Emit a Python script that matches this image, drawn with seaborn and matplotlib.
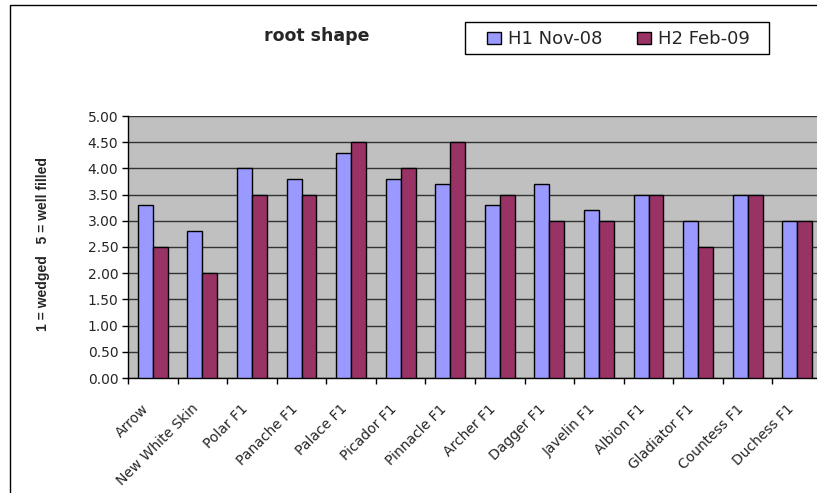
import pandas as pd
import matplotlib.pyplot as plt
import seaborn as sns
from matplotlib.patches import Rectangle
from matplotlib.transforms import ScaledTranslation

varieties = ['Arrow', 'New White Skin', 'Polar F1', 'Panache F1', 'Palace F1',
             'Picador F1', 'Pinnacle F1', 'Archer F1', 'Dagger F1', 'Javelin F1',
             'Albion F1', 'Gladiator F1', 'Countess F1', 'Duchess F1']
h1_nov08 = [3.3, 2.8, 4.0, 3.8, 4.3, 3.8, 3.7, 3.3, 3.7, 3.2, 3.5, 3.0, 3.5, 3.0]
h2_feb09 = [2.5, 2.0, 3.5, 3.5, 4.5, 4.0, 4.5, 3.5, 3.0, 3.0, 3.5, 2.5, 3.5, 3.0]
series = ['H1 Nov-08', 'H2 Feb-09']
yticks = [0, 0.5, 1, 1.5, 2, 2.5, 3, 3.5, 4, 4.5, 5]

df = pd.DataFrame({
    'variety': varieties * 2,
    'score': h1_nov08 + h2_feb09,
    'harvest': [series[0]] * len(varieties) + [series[1]] * len(varieties),
})

sns.set_theme(style='white')
plt.rcParams['font.family'] = ['DejaVu Sans']

fig = plt.figure(figsize=(8.17, 4.93), dpi=100)
ax = fig.add_axes([128 / 817, 1 - 378 / 493, 694 / 817, 262 / 493])
ax.set_facecolor('#C0C0C0')

sns.barplot(data=df, x='variety', y='score', hue='harvest', ax=ax,
            palette=['#9999FF', '#993366'], saturation=1, width=0.6,
            edgecolor='black', linewidth=1, legend=True, zorder=3)

ax.set_ylim(0, 5)
ax.set_xlim(-0.5, len(varieties) - 0.5)
ax.set_yticks(yticks)
ax.set_yticklabels([f'{v:.2f}' for v in yticks], fontsize=10)
ax.yaxis.grid(True, color='#333333', linewidth=1, zorder=0)
ax.set_axisbelow(True)

# tick marks on the category boundaries, labels at the centres
ax.set_xticks([i - 0.5 for i in range(len(varieties) + 1)], minor=True)
ax.set_xticks(range(len(varieties)))
ax.set_xticklabels(varieties, rotation=45, ha='right', va='top',
                   rotation_mode='anchor', fontsize=10)
ax.tick_params(axis='x', which='major', length=0, pad=17)
ax.tick_params(axis='x', which='minor', length=4, width=1, color='black',
               direction='out', bottom=True)
ax.tick_params(axis='y', length=4, width=1, color='black', direction='out',
               left=True, pad=3)
shift = ScaledTranslation(-11 / 100, 0, fig.dpi_scale_trans)
for lab in ax.get_xticklabels():
    lab.set_transform(lab.get_transform() + shift)

for s in ['top', 'right']:
    ax.spines[s].set_visible(False)
for s in ['left', 'bottom']:
    ax.spines[s].set_color('black')
    ax.spines[s].set_linewidth(1)

ax.set_xlabel('')
ax.set_ylabel('')

handles, labels = ax.get_legend_handles_labels()
ax.get_legend().remove()
leg = fig.legend(handles, labels, loc='center', ncol=2,
                 bbox_to_anchor=(618.5 / 817, 1 - 39.5 / 493), fontsize=13,
                 frameon=False, handlelength=0.78, handleheight=0.67,
                 columnspacing=1.9, handletextpad=0.39, borderpad=0)
fig.patches.append(Rectangle((465 / 817, 1 - 54 / 493), 304 / 817, 32 / 493,
                             transform=fig.transFigure, fill=False,
                             edgecolor='black', linewidth=1))

fig.text(317 / 817, 1 - 41 / 493, 'root shape', fontsize=12.5, fontweight='bold',
         ha='center', va='baseline')
fig.text(43 / 817, 1 - 244 / 493, '1 = wedged   5 = well filled', fontsize=10,
         fontweight='bold', rotation=90, ha='center', va='center',
         family='Liberation Sans')

fig.patches.append(Rectangle((10 / 817, -0.1), 1.1, 1.1 - 5 / 493,
                             transform=fig.transFigure, fill=False,
                             edgecolor='black', linewidth=1))

plt.savefig('out.png', dpi=100)
